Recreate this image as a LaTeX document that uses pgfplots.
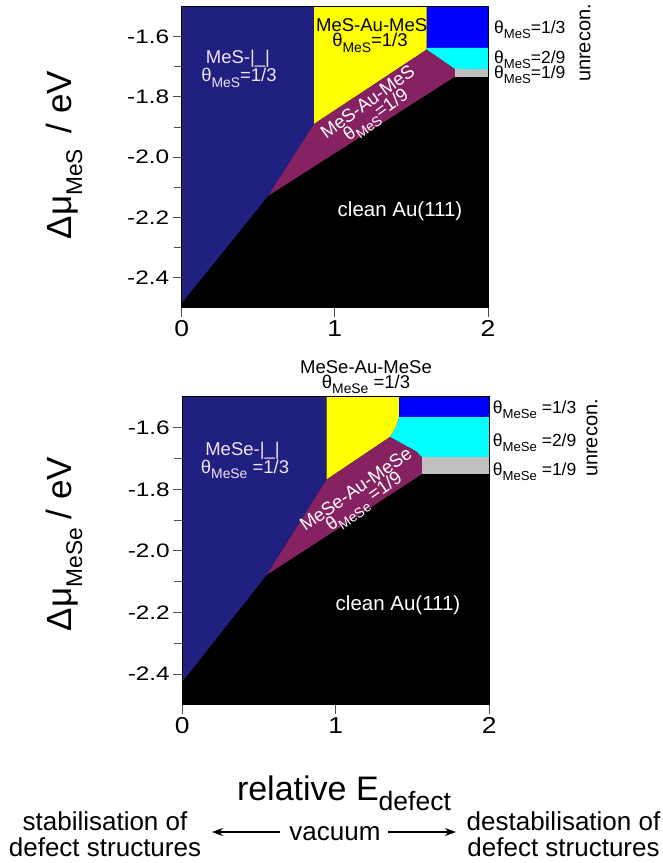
\documentclass[border=0pt]{standalone}
\usepackage{pgfplots}
\pgfplotsset{compat=1.18}
\usetikzlibrary{arrows.meta}
\usepackage{fontspec}
\setmainfont{Liberation Sans}
\newfontfamily\tickfont[FakeStretch=1.25]{Liberation Sans}
\newfontfamily\xtickfont[FakeStretch=1.15]{Liberation Sans}
\definecolor{navy}{RGB}{32,32,128}
\definecolor{plum}{RGB}{135,34,98}
\definecolor{ltext}{RGB}{242,228,242}
\definecolor{tickgray}{RGB}{80,80,80}
\definecolor{cyanr}{RGB}{0,255,255}
\definecolor{yellowr}{RGB}{255,255,0}
\definecolor{bluer}{RGB}{0,0,255}
\definecolor{grayr}{RGB}{192,192,192}
\newcommand{\sub}[2][0.75]{\raisebox{-0.3em}{\scalebox{#1}{#2}}}
\newcommand{\lab}{\fontsize{18.5}{20}\selectfont}
\newcommand{\rlab}{\fontsize{17.5}{20}\selectfont}
\pgfplotsset{
  pd/.style={
    scale only axis,
    xmin=0, xmax=2, ymin=-2.5, ymax=-1.5,
    axis background/.style={fill=black},
    axis on top,
    no markers,
    xtick={0,1,2}, xticklabels={0,1,2},
    ytick={-2.4,-2.2,-2.0,-1.8,-1.6},
    yticklabels={-2.4,-2.2,-2.0,-1.8,-1.6},
    minor ytick={-2.3,-2.1,-1.9,-1.7},
    xtick pos=bottom, ytick pos=left,
    tick align=outside,
    major tick length=9pt, minor tick length=8pt,
    every tick/.style={tickgray, line width=1pt},
    axis line style={black, line width=1pt},
    yticklabel style={font=\tickfont\fontsize{19.5}{19.5}\selectfont},
    xticklabel style={font=\xtickfont\fontsize{23}{23}\selectfont},
  }
}
\begin{document}
\begin{tikzpicture}
\useasboundingbox (0pt,0pt) rectangle (663pt,-863pt);
% ---------------- top panel (MeS) ----------------
\begin{axis}[pd, at={(181.7pt,-6.5pt)}, anchor=north west,
  width=306.3pt, height=301.3pt]
\addplot[fill=navy, draw=none] coordinates {(0,-2.485) (0,-1.5) (0.864,-1.5) (0.864,-1.890) (0.565,-2.128)};
\addplot[fill=yellowr, draw=none] coordinates {(0.864,-1.5) (1.599,-1.5) (1.599,-1.643) (0.864,-1.890)};
\addplot[fill=bluer, draw=none] coordinates {(1.599,-1.5) (2,-1.5) (2,-1.637) (1.599,-1.637)};
\addplot[fill=cyanr, draw=none] coordinates {(1.599,-1.637) (2,-1.637) (2,-1.708) (1.784,-1.708) (1.599,-1.643)};
\addplot[fill=grayr, draw=none] coordinates {(1.784,-1.708) (2,-1.708) (2,-1.733) (1.784,-1.733)};
\addplot[fill=plum, draw=none] coordinates {(0.565,-2.128) (0.864,-1.890) (1.599,-1.643) (1.784,-1.708) (1.784,-1.733)};
\end{axis}
% ---------------- bottom panel (MeSe) ----------------
\begin{axis}[pd, at={(182.3pt,-396.9pt)}, anchor=north west,
  width=307pt, height=308pt]
\addplot[fill=navy, draw=none] coordinates {(0,-2.425) (0,-1.5) (0.941,-1.5) (0.941,-1.768) (0.55,-2.078)};
\addplot[fill=yellowr, draw=none] coordinates {(0.941,-1.5) (1.412,-1.5) (1.412,-1.566) (1.39,-1.600) (1.353,-1.630) (0.941,-1.768)};
\addplot[fill=bluer, draw=none] coordinates {(1.412,-1.5) (2,-1.5) (2,-1.566) (1.412,-1.566)};
\addplot[fill=cyanr, draw=none] coordinates {(1.412,-1.566) (2,-1.566) (2,-1.696) (1.56,-1.696) (1.527,-1.678) (1.353,-1.630) (1.39,-1.600)};
\addplot[fill=grayr, draw=none] coordinates {(1.56,-1.696) (2,-1.696) (2,-1.751) (1.56,-1.751)};
\addplot[fill=plum, draw=none] coordinates {(0.55,-2.078) (0.941,-1.768) (1.353,-1.630) (1.527,-1.678) (1.56,-1.696) (1.56,-1.751)};
\end{axis}
% ---------------- y labels ----------------
\node[rotate=90, anchor=base] at (71.7pt,-155pt) {\fontsize{35}{40}\selectfont Δμ\sub[0.65]{MeS}\hspace{0.45em}/ eV};
\node[rotate=90, anchor=base] at (71.7pt,-544pt) {\fontsize{35}{40}\selectfont Δμ\sub[0.65]{MeSe}\hspace{0.25em}/ eV};
% ---------------- top panel labels ----------------
\node[ltext, anchor=base, font=\lab] at (238pt,-63.3pt) {MeS-|\_|};
\node[ltext, anchor=base, font=\lab] at (239pt,-81.7pt) {θ\sub{MeS}=1/3};
\node[black, anchor=base, font=\lab] at (371.7pt,-31.7pt) {MeS-Au-MeS};
\node[black, anchor=base, font=\lab] at (370pt,-46.7pt) {θ\sub{MeS}=1/3};
\node[white, rotate=36, font=\lab] at (367.5pt,-101.7pt) {MeS-Au-MeS};
\node[white, rotate=36, font=\lab] at (377pt,-116pt) {θ\sub{MeS}=1/9};
\node[white, anchor=base, font=\fontsize{20.5}{21}\selectfont] at (400pt,-216.7pt) {clean Au(111)};
\node[anchor=base west, font=\rlab, inner sep=0pt] at (494pt,-33.3pt) {θ\sub{MeS}=1/3};
\node[anchor=base west, font=\rlab, inner sep=0pt] at (494pt,-63.3pt) {θ\sub{MeS}=2/9};
\node[anchor=base west, font=\rlab, inner sep=0pt] at (494pt,-78.3pt) {θ\sub{MeS}=1/9};
\node[rotate=90, font=\fontsize{20}{20}\selectfont] at (585pt,-43pt) {unrecon.};
% ---------------- bottom panel labels ----------------
\node[black, anchor=base, font=\lab] at (366pt,-373.3pt) {MeSe-Au-MeSe};
\node[black, anchor=base, font=\lab] at (366pt,-388.3pt) {θ\sub{MeSe} =1/3};
\node[ltext, anchor=base, font=\lab] at (242.5pt,-455pt) {MeSe-|\_|};
\node[ltext, anchor=base, font=\lab] at (245pt,-473.3pt) {θ\sub{MeSe} =1/3};
\node[white, rotate=35, font=\lab] at (355.7pt,-489pt) {MeSe-Au-MeSe};
\node[white, rotate=35, font=\lab] at (365pt,-503pt) {θ\sub{MeSe} =1/9};
\node[white, anchor=base, font=\fontsize{20.5}{21}\selectfont] at (398pt,-610pt) {clean Au(111)};
\node[anchor=base west, font=\rlab, inner sep=0pt] at (492.7pt,-413.3pt) {θ\sub{MeSe} =1/3};
\node[anchor=base west, font=\rlab, inner sep=0pt] at (492.7pt,-446.7pt) {θ\sub{MeSe} =2/9};
\node[anchor=base west, font=\rlab, inner sep=0pt] at (492.7pt,-475pt) {θ\sub{MeSe} =1/9};
\node[rotate=90, font=\fontsize{20}{20}\selectfont] at (592pt,-438pt) {unrecon.};
% ---------------- x label and bottom annotation ----------------
\node[anchor=base, font=\fontsize{34}{36}\selectfont] at (344pt,-800pt) {relative E\sub[0.78]{defect}};
\node[anchor=base, align=center, font=\fontsize{26}{25.5}\selectfont, inner sep=0pt] at (105pt,-856pt) {stabilisation of\\defect structures};
\node[anchor=base, align=center, font=\fontsize{26}{25.5}\selectfont, inner sep=0pt] at (563.5pt,-856pt) {destabilisation of\\defect structures};
\node[font=\fontsize{26}{26}\selectfont, inner sep=0pt] at (335pt,-834pt) {vacuum};
\draw[-{Stealth[length=11pt, width=8pt]}, line width=1.3pt] (280pt,-832pt) -- (212pt,-832pt);
\draw[-{Stealth[length=11pt, width=8pt]}, line width=1.3pt] (388pt,-832pt) -- (456pt,-832pt);
\end{tikzpicture}
\end{document}
